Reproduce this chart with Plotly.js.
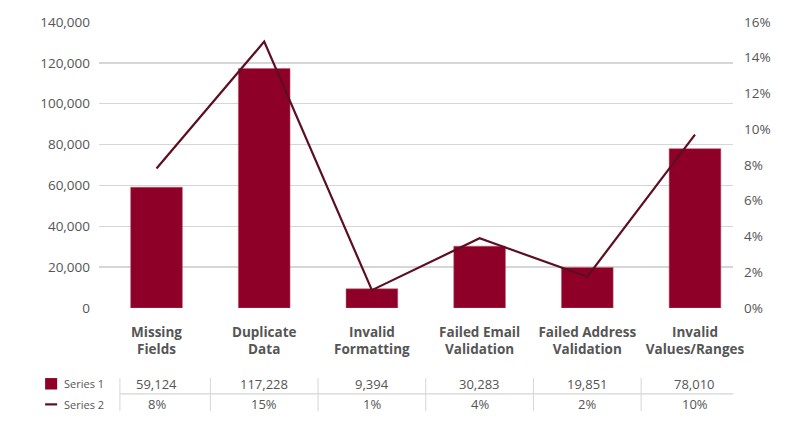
<!DOCTYPE html>
<html>
<head>
<meta charset="utf-8">
<script src="https://cdn.plot.ly/plotly-3.0.1.min.js"></script>
<style>
html,body{margin:0;padding:0;background:#fff;}
#chart{width:809px;height:432px;}
</style>
</head>
<body>
<div id="chart"></div>
<script>
// ---- data ----
const categories = ["Missing<br>Fields", "Duplicate<br>Data", "Invalid<br>Formatting", "Failed Email<br>Validation", "Failed Address<br>Validation", "Invalid<br>Values/Ranges"];
const series1 = [59124, 117228, 9394, 30283, 19851, 78010];
const series2 = [7.8, 14.9, 1.0, 3.9, 1.75, 9.7];
const series2Labels = ["8%", "15%", "1%", "4%", "2%", "10%"];
const leftTicks = [0, 20000, 40000, 60000, 80000, 100000, 120000, 140000];
const rightTicks = [0, 2, 4, 6, 8, 10, 12, 14, 16];

const barColor = "#8e0028";
const lineColor = "#5b0f20";
const textColor = "#555555";
const gridColor = "#d6d6d6";
const fontFam = "'Open Sans', 'Noto Sans', sans-serif";

const idx = categories.map((c, i) => i);

const traces = [
  {
    type: "bar", x: idx, y: series1, name: "Series 1",
    marker: {color: barColor, line: {color: "#b85a70", width: 0.5}},
    width: 0.48, yaxis: "y", hoverinfo: "skip"
  },
  {
    type: "scatter", mode: "lines", x: idx, y: series2, name: "Series 2",
    line: {color: lineColor, width: 2.2}, yaxis: "y2", hoverinfo: "skip"
  }
];

const annotations = [];
const shapes = [];
const rowY1 = -0.265, rowY2 = -0.337; // paper coords for table rows
idx.forEach(i => {
  annotations.push({
    x: i, y: rowY1, xref: "x", yref: "paper", showarrow: false,
    text: series1[i].toLocaleString("en-US"),
    font: {family: fontFam, size: 13, color: textColor}, yanchor: "middle"
  });
  annotations.push({
    x: i, y: rowY2, xref: "x", yref: "paper", showarrow: false,
    text: series2Labels[i],
    font: {family: fontFam, size: 13, color: textColor}, yanchor: "middle"
  });
  if (i > 0) {
    shapes.push({type: "line", xref: "x", yref: "paper", x0: i - 0.5, x1: i - 0.5,
      y0: -0.245, y1: -0.36, line: {color: gridColor, width: 1}});
  }
});
// left edge divider of table and horizontal separator
shapes.push({type: "line", xref: "paper", yref: "paper", x0: 0.033, x1: 0.033,
  y0: -0.245, y1: -0.36, line: {color: gridColor, width: 1}});
shapes.push({type: "line", xref: "paper", yref: "paper", x0: 0.033, x1: 1,
  y0: -0.3, y1: -0.3, line: {color: gridColor, width: 1.3}});
// legend keys
shapes.push({type: "rect", xref: "paper", yref: "paper", x0: -0.085, x1: -0.066,
  y0: -0.245, y1: -0.285, fillcolor: barColor, line: {width: 0}});
shapes.push({type: "line", xref: "paper", yref: "paper", x0: -0.085, x1: -0.066,
  y0: rowY2, y1: rowY2, line: {color: lineColor, width: 2.2}});
annotations.push({x: -0.058, y: rowY1, xref: "paper", yref: "paper", showarrow: false,
  text: "Series 1", xanchor: "left", yanchor: "middle",
  font: {family: fontFam, size: 11, color: textColor}});
annotations.push({x: -0.058, y: rowY2, xref: "paper", yref: "paper", showarrow: false,
  text: "Series 2", xanchor: "left", yanchor: "middle",
  font: {family: fontFam, size: 11, color: textColor}});

const layout = {
  width: 809, height: 432,
  margin: {l: 99, r: 76, t: 22, b: 124, pad: 0},
  paper_bgcolor: "#fff", plot_bgcolor: "#fff",
  showlegend: false,
  font: {family: fontFam, color: textColor},
  xaxis: {
    range: [-0.534, 5.353], tickmode: "array", tickvals: idx,
    ticktext: categories.map(c => "<b>" + c + "</b>"),
    tickfont: {family: fontFam, size: 13.5, color: textColor},
    showgrid: false, zeroline: false, showline: false, ticks: "",
    fixedrange: true, ticklabelstandoff: 14
  },
  yaxis: {
    range: [0, 140000], tickmode: "array", tickvals: leftTicks,
    ticktext: leftTicks.map(v => v.toLocaleString("en-US")),
    tickfont: {family: fontFam, size: 13.5, color: textColor},
    showgrid: true, gridcolor: gridColor, gridwidth: 1.4,
    zeroline: false, showline: false, ticks: "", ticklabelstandoff: 8
  },
  yaxis2: {
    range: [0, 16], overlaying: "y", side: "right", tickmode: "array",
    tickvals: rightTicks, ticktext: rightTicks.map(v => v + "%"),
    tickfont: {family: fontFam, size: 13.5, color: textColor},
    showgrid: false, zeroline: false, showline: false, ticks: "", ticklabelstandoff: 10
  },
  shapes: shapes,
  annotations: annotations
};

Plotly.newPlot("chart", traces, layout, {staticPlot: true, displayModeBar: false});
</script>
</body>
</html>
